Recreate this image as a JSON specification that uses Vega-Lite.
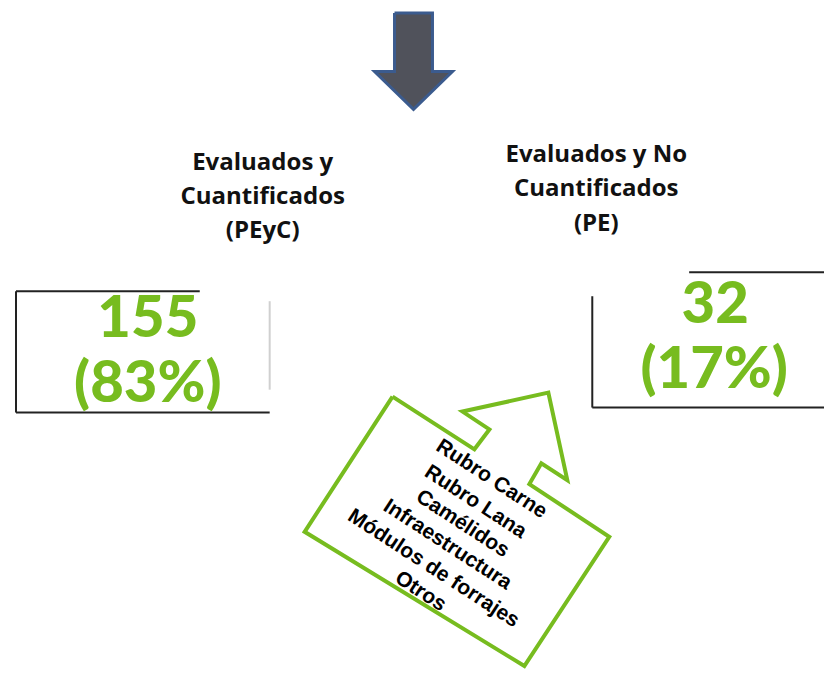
{
  "$schema": "https://vega.github.io/schema/vega-lite/v6.json",
  "width": 825,
  "height": 674,
  "padding": 0,
  "autosize": {"type": "fit", "contains": "padding"},
  "background": "white",
  "config": {"view": {"stroke": null}},
  "datasets": {
    "downArrow": [
      {"o": 1, "x": 395, "y": 13},
      {"o": 2, "x": 433, "y": 13},
      {"o": 3, "x": 433, "y": 72},
      {"o": 4, "x": 453, "y": 72},
      {"o": 5, "x": 414, "y": 110},
      {"o": 6, "x": 375, "y": 72},
      {"o": 7, "x": 395, "y": 72},
      {"o": 8, "x": 395, "y": 13}
    ],
    "greenArrow": [
      {"o": 1, "x": 393, "y": 399},
      {"o": 2, "x": 305, "y": 535},
      {"o": 3, "x": 525, "y": 670},
      {"o": 4, "x": 610, "y": 540},
      {"o": 5, "x": 530, "y": 487},
      {"o": 6, "x": 542, "y": 466},
      {"o": 7, "x": 568, "y": 483},
      {"o": 8, "x": 549, "y": 395},
      {"o": 9, "x": 463, "y": 414},
      {"o": 10, "x": 490, "y": 432},
      {"o": 11, "x": 475, "y": 452},
      {"o": 12, "x": 393, "y": 399}
    ],
    "boxLines": [
      {"x": 16, "y": 293, "x2": 16, "y2": 415, "c": "dark"},
      {"x": 16, "y": 293, "x2": 200, "y2": 293, "c": "dark"},
      {"x": 16, "y": 415, "x2": 270, "y2": 415, "c": "dark"},
      {"x": 270, "y": 303, "x2": 270, "y2": 392, "c": "light"},
      {"x": 593, "y": 298, "x2": 593, "y2": 410, "c": "dark"},
      {"x": 593, "y": 410, "x2": 825, "y2": 410, "c": "dark"},
      {"x": 690, "y": 274, "x2": 825, "y2": 274, "c": "dark"}
    ],
    "titles": [
      {"t": "Evaluados y", "x": 263, "y": 164},
      {"t": "Cuantificados", "x": 263, "y": 198},
      {"t": "(PEyC)", "x": 263, "y": 232},
      {"t": "Evaluados y No", "x": 597, "y": 156},
      {"t": "Cuantificados", "x": 597, "y": 190},
      {"t": "(PE)", "x": 597, "y": 225}
    ],
    "numbers": [
      {"t": "155", "x": 148, "y": 322},
      {"t": "(83%)", "x": 148, "y": 387},
      {"t": "32", "x": 716, "y": 308},
      {"t": "(17%)", "x": 715, "y": 373}
    ],
    "items": [
      {"t": "Rubro Carne", "x": 492, "y": 482},
      {"t": "Rubro Lana", "x": 476, "y": 505},
      {"t": "Camélidos", "x": 463, "y": 527},
      {"t": "Infraestructura", "x": 448, "y": 548},
      {"t": "Módulos de forrajes", "x": 434, "y": 572},
      {"t": "Otros", "x": 421, "y": 595}
    ]
  },
  "layer": [
    {
      "data": {"name": "downArrow"},
      "mark": {"type": "line", "fill": "#50525b", "stroke": "#3b5b8e", "strokeWidth": 3, "strokeJoin": "miter"},
      "encoding": {
        "x": {"field": "x", "type": "quantitative", "scale": {"domain": [0, 825], "nice": false, "zero": false}, "axis": null},
        "y": {"field": "y", "type": "quantitative", "scale": {"domain": [0, 674], "nice": false, "zero": false, "reverse": true}, "axis": null},
        "order": {"field": "o"}
      }
    },
    {
      "data": {"name": "greenArrow"},
      "mark": {"type": "line", "fill": "white", "stroke": "#77bc1f", "strokeWidth": 4, "strokeJoin": "miter"},
      "encoding": {
        "x": {"field": "x", "type": "quantitative", "scale": {"domain": [0, 825], "nice": false, "zero": false}, "axis": null},
        "y": {"field": "y", "type": "quantitative", "scale": {"domain": [0, 674], "nice": false, "zero": false, "reverse": true}, "axis": null},
        "order": {"field": "o"}
      }
    },
    {
      "data": {"name": "boxLines"},
      "mark": {"type": "rule", "strokeWidth": 2},
      "encoding": {
        "x": {"field": "x", "type": "quantitative", "scale": {"domain": [0, 825], "nice": false, "zero": false}, "axis": null},
        "y": {"field": "y", "type": "quantitative", "scale": {"domain": [0, 674], "nice": false, "zero": false, "reverse": true}, "axis": null},
        "x2": {"field": "x2"},
        "y2": {"field": "y2"},
        "color": {"field": "c", "type": "nominal", "scale": {"domain": ["dark", "light"], "range": ["#222222", "#d0d0d0"]}, "legend": null}
      }
    },
    {
      "data": {"name": "titles"},
      "mark": {"type": "text", "font": "Open Sans", "fontWeight": "bold", "fontSize": 24, "color": "#111111", "align": "center", "baseline": "middle"},
      "encoding": {
        "x": {"field": "x", "type": "quantitative", "scale": {"domain": [0, 825], "nice": false, "zero": false}, "axis": null},
        "y": {"field": "y", "type": "quantitative", "scale": {"domain": [0, 674], "nice": false, "zero": false, "reverse": true}, "axis": null},
        "text": {"field": "t"}
      }
    },
    {
      "data": {"name": "numbers"},
      "mark": {"type": "text", "font": "Lato", "fontWeight": 900, "fontSize": 58, "color": "#77bc1f", "align": "center", "baseline": "middle"},
      "encoding": {
        "x": {"field": "x", "type": "quantitative", "scale": {"domain": [0, 825], "nice": false, "zero": false}, "axis": null},
        "y": {"field": "y", "type": "quantitative", "scale": {"domain": [0, 674], "nice": false, "zero": false, "reverse": true}, "axis": null},
        "text": {"field": "t"}
      }
    },
    {
      "data": {"name": "items"},
      "mark": {"type": "text", "font": "Liberation Sans", "fontWeight": "bold", "fontSize": 21, "color": "#000000", "align": "center", "baseline": "middle", "angle": 33},
      "encoding": {
        "x": {"field": "x", "type": "quantitative", "scale": {"domain": [0, 825], "nice": false, "zero": false}, "axis": null},
        "y": {"field": "y", "type": "quantitative", "scale": {"domain": [0, 674], "nice": false, "zero": false, "reverse": true}, "axis": null},
        "text": {"field": "t"}
      }
    }
  ]
}
